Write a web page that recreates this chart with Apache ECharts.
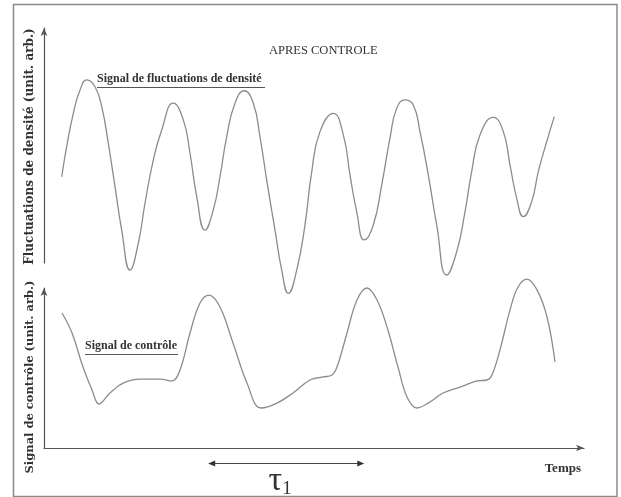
<!DOCTYPE html>
<html><head><meta charset="utf-8">
<script src="https://cdn.jsdelivr.net/npm/echarts@6/dist/echarts.min.js"></script>
<style>html,body{margin:0;padding:0;background:#fff}#c{width:621px;height:497px}</style>
</head><body><div id="c"></div>
<script>
// Upper signal: density fluctuations (arbitrary units)
const densityTime = [3.28,4.20,5.43,6.67,7.91,9.44,10.69,11.91,13.15,14.39,15.93,17.46,18.70,20.24,21.80,23.94,25.80,27.04,28.28,29.81,31.35,32.59,33.83,35.37,37.09,38.76,40.0,41.24,42.78,44.02,45.24,46.80,48.33,49.57,51.11,53.57,55.43,56.67,57.91,59.31,60.98,62.54,64.07,65.31,66.85,68.39,69.63,71.17,72.72,74.57,76.43,77.96,79.20,80.74,83.20,85.06,86.30,87.54,88.76,90.31,91.54,93.09,94.50];
const densityValue = [36.7,49.5,63.7,73.6,77.9,75.0,66.5,50.9,32.5,14.0,-3.0,8.4,25.4,43.8,56.6,68.0,60.9,46.7,28.2,14.0,22.6,36.7,53.7,68.0,73.3,68.0,53.7,35.3,14.0,-3.0,-12.9,-3.0,16.2,38.7,55.9,63.7,54.5,37.4,21.8,9.8,16.2,33.2,53.1,65.8,69.4,67.2,55.9,37.4,16.2,-5.1,4.8,21.8,38.9,54.5,62.0,55.9,41.7,27.5,19.7,26.1,38.9,51.6,62.3];
// Lower signal: control signal (arbitrary units)
const controlTime = [3.33,5.19,7.22,8.89,10.19,12.22,14.63,17.78,21.48,23.70,25.19,27.04,28.89,30.56,32.59,35.0,37.59,40.19,43.15,46.11,49.26,51.67,53.33,54.26,56.11,57.96,59.81,61.67,63.52,65.56,67.22,69.07,71.48,73.89,77.04,80.19,82.04,82.96,84.44,86.30,87.78,89.44,91.30,93.15,94.63];
const controlValue = [84.4,71.9,50.6,36.3,27.5,34.4,40.6,43.1,43.1,41.9,48.8,71.9,90.6,95.6,88.1,65.6,40.6,25.0,28.1,34.4,42.5,44.4,45.6,50.6,71.9,92.5,100,92.5,75.6,50.6,31.9,25.0,28.8,34.4,38.1,41.9,42.5,45.6,61.3,86.3,100.6,105.6,98.8,81.9,53.8];
// Period annotation tau_1 (time span, level on the control axis)
const tauSpan = [30.4, 59.3];
const tauLevel = -9.4;

const pairs = (xs, ys) => xs.map((x, i) => [x, ys[i]]);
const serif = '"Liberation Serif", "DejaVu Serif", serif';
const wideSerif = '"DejaVu Serif", serif';
const axisCol = '#555';
const curveCol = '#8c8c8c';

const chart = echarts.init(document.getElementById('c'), null, {renderer: 'canvas'});
const hiddenX = (gi) => ({
  type: 'value', gridIndex: gi, min: 0, max: 100,
  axisLabel: {show: false}, axisTick: {show: false}, splitLine: {show: false}
});
chart.setOption({
  backgroundColor: '#fff',
  animation: false,
  title: {
    text: 'APRES CONTROLE', left: 264, top: 39,
    textStyle: {fontFamily: serif, fontWeight: 'normal', fontSize: 12.5, color: '#333'}
  },
  grid: [
    {left: 44, top: 28, width: 540, height: 235},
    {left: 44, top: 288, width: 540, height: 160}
  ],
  xAxis: [
    Object.assign(hiddenX(0), {axisLine: {show: false}}),
    Object.assign(hiddenX(1), {
      axisLine: {show: true, symbol: ['none', 'arrow'], symbolSize: [5, 8], lineStyle: {color: axisCol, width: 1.2}},
      name: 'Temps', nameLocation: 'end', nameGap: -3,
      nameTextStyle: {fontFamily: serif, fontWeight: 'bold', fontSize: 13, color: '#333', align: 'right', verticalAlign: 'top', padding: [14, 0, 0, 0]}
    })
  ],
  yAxis: [
    {
      type: 'value', gridIndex: 0, min: 0, max: 100,
      axisLabel: {show: false}, axisTick: {show: false}, splitLine: {show: false},
      axisLine: {show: true, symbol: ['none', 'arrow'], symbolSize: [5, 8], lineStyle: {color: axisCol, width: 1.2}},
      name: 'Fluctuations de densité (unit. arb.)', nameLocation: 'middle', nameGap: 8,
      nameTextStyle: {fontFamily: wideSerif, fontWeight: 'bold', fontSize: 12, color: '#333', padding: [0, 2, 0, 0]}
    },
    {
      type: 'value', gridIndex: 1, min: 0, max: 100,
      axisLabel: {show: false}, axisTick: {show: false}, splitLine: {show: false},
      axisLine: {show: true, symbol: ['none', 'arrow'], symbolSize: [5, 8], lineStyle: {color: axisCol, width: 1.2}},
      name: 'Signal de contrôle (unit. arb.)', nameLocation: 'middle', nameGap: 8,
      nameTextStyle: {fontFamily: wideSerif, fontWeight: 'bold', fontSize: 11.5, color: '#333', padding: [0, 18, 0, 0]}
    }
  ],
  series: [
    {
      type: 'line', xAxisIndex: 0, yAxisIndex: 0, data: pairs(densityTime, densityValue),
      smooth: 0.5, showSymbol: false, symbol: 'none', clip: false,
      lineStyle: {color: curveCol, width: 1.3}
    },
    {
      type: 'line', xAxisIndex: 1, yAxisIndex: 1, data: pairs(controlTime, controlValue),
      smooth: 0.4, showSymbol: false, symbol: 'none', clip: false,
      lineStyle: {color: curveCol, width: 1.3}
    }
  ]
});

// tau_1 period arrow, placed through the control signal's axes
const pA = chart.convertToPixel({xAxisIndex: 1, yAxisIndex: 1}, [tauSpan[0], tauLevel]);
const pB = chart.convertToPixel({xAxisIndex: 1, yAxisIndex: 1}, [tauSpan[1], tauLevel]);
const y = Math.round(pA[1]) + 0.5;
const mid = (pA[0] + pB[0]) / 2;
chart.setOption({
  graphic: [
    {type: 'rect', silent: true, shape: {x: 13.5, y: 4.5, width: 603.5, height: 492}, style: {fill: 'none', stroke: '#8a8a8a', lineWidth: 1.5}},
    {type: 'text', left: 97, top: 73, style: {text: 'Signal de fluctuations de densité', font: 'bold 12px ' + serif, fill: '#333'}},
    {type: 'line', shape: {x1: 97, y1: 87.5, x2: 265, y2: 87.5}, style: {stroke: '#555', lineWidth: 1}},
    {type: 'text', left: 85, top: 340, style: {text: 'Signal de contrôle', font: 'bold 12px ' + serif, fill: '#333'}},
    {type: 'line', shape: {x1: 85, y1: 354.5, x2: 178, y2: 354.5}, style: {stroke: '#555', lineWidth: 1}},
    {type: 'line', shape: {x1: pA[0] + 3, y1: y, x2: pB[0] - 3, y2: y}, style: {stroke: '#444', lineWidth: 1.2}},
    {type: 'polygon', shape: {points: [[pA[0], y], [pA[0] + 7, y - 3], [pA[0] + 7, y + 3]]}, style: {fill: '#333'}},
    {type: 'polygon', shape: {points: [[pB[0], y], [pB[0] - 7, y - 3], [pB[0] - 7, y + 3]]}, style: {fill: '#333'}},
    {type: 'text', style: {x: mid - 6, y: y + 1, text: '{t|τ}{s|1}', align: 'center', verticalAlign: 'top',
      rich: {
        t: {fontFamily: serif, fontSize: 34, fill: '#333'},
        s: {fontFamily: serif, fontSize: 19, fill: '#333', verticalAlign: 'bottom', padding: [10, 0, 0, 0]}
      }}}
  ]
});
</script>
</body></html>
